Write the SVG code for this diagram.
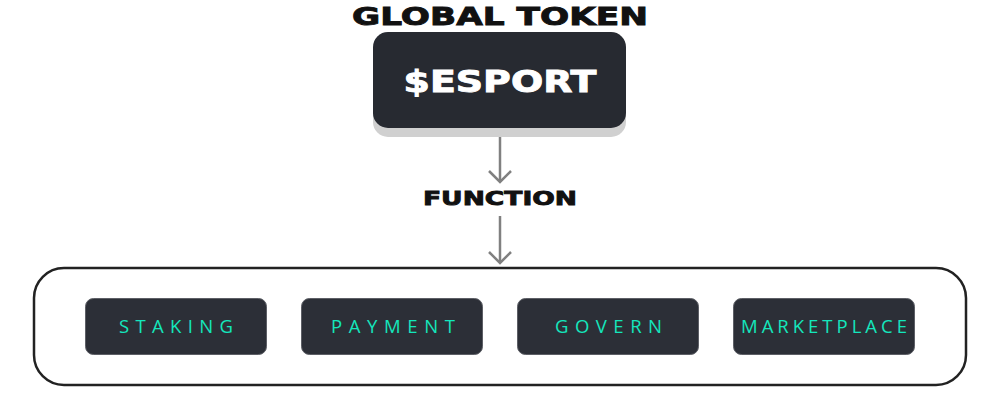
<svg xmlns="http://www.w3.org/2000/svg" width="1000" height="400" viewBox="0 0 1000 400">
<defs>
<style>
.title{font-family:"DejaVu Sans","Liberation Sans",sans-serif;font-weight:900;fill:#111111;stroke:#111111;stroke-width:0.9;}
.tok{font-family:"DejaVu Sans","Liberation Sans",sans-serif;font-weight:900;fill:#ffffff;stroke:#ffffff;stroke-width:0.9;}
.btn{fill:#2c2f37;stroke:#5d5f66;stroke-width:1;}
.lbl{font-family:"Open Sans","Noto Sans",sans-serif;font-size:18.5px;font-weight:500;fill:#14e6bc;}
.conn{stroke:#808080;stroke-width:2.5;fill:none;}
</style>
<marker id="arr" viewBox="0 0 14 24" refX="12.5" refY="12" markerWidth="14" markerHeight="24" markerUnits="userSpaceOnUse" orient="auto">
<path d="M1.5,1 L12.5,12 L1.5,23" fill="none" stroke="#808080" stroke-width="2.5"/>
</marker>
</defs>
<rect width="1000" height="400" fill="#ffffff"/>
<g id="title">
<text class="title" x="500" y="25" font-size="25" text-anchor="middle" textLength="296" lengthAdjust="spacingAndGlyphs">GLOBAL TOKEN</text>
</g>
<g id="token">
<rect x="373" y="40" width="253" height="97" rx="15" fill="#d0d0d0"/>
<rect x="373" y="32" width="253" height="96" rx="15" fill="#272a31"/>
<text class="tok" x="500" y="92" font-size="30" text-anchor="middle" textLength="193" lengthAdjust="spacingAndGlyphs">$ESPORT</text>
</g>
<g id="function">
<text class="title" x="500" y="205" font-size="20" text-anchor="middle" textLength="154" lengthAdjust="spacingAndGlyphs">FUNCTION</text>
</g>
<g id="connectors">
<line class="conn" x1="500" y1="137" x2="500" y2="182" marker-end="url(#arr)"/>
<line class="conn" x1="500" y1="216" x2="500" y2="263" marker-end="url(#arr)"/>
</g>
<g id="container">
<rect x="34" y="268" width="932" height="117" rx="30" fill="none" stroke="#222222" stroke-width="2.5"/>
</g>
<g id="staking">
<rect class="btn" x="85.5" y="298.5" width="181" height="56" rx="8"/>
<text class="lbl" x="119" y="333" textLength="114" lengthAdjust="spacing">STAKING</text>
</g>
<g id="payment">
<rect class="btn" x="301.5" y="298.5" width="181" height="56" rx="8"/>
<text class="lbl" x="331" y="333" textLength="124" lengthAdjust="spacing">PAYMENT</text>
</g>
<g id="govern">
<rect class="btn" x="517.5" y="298.5" width="181" height="56" rx="8"/>
<text class="lbl" x="555" y="333" textLength="107" lengthAdjust="spacing">GOVERN</text>
</g>
<g id="marketplace">
<rect class="btn" x="733.5" y="298.5" width="181" height="56" rx="8"/>
<text class="lbl" x="741" y="333" textLength="166" lengthAdjust="spacing">MARKETPLACE</text>
</g>
</svg>
